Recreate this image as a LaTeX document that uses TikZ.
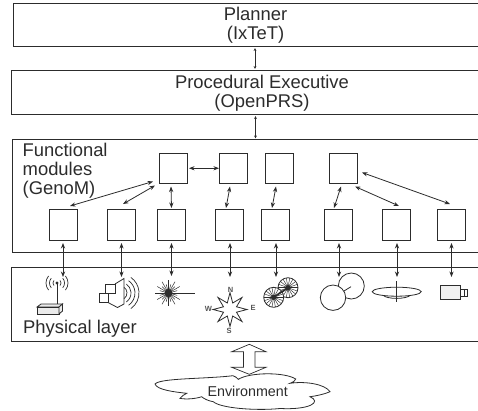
\documentclass[tikz,border=0pt]{standalone}
\usepackage{fontspec}
\setmainfont{Liberation Sans}
\usetikzlibrary{arrows.meta}
\definecolor{ink}{HTML}{2C2C2C}
\tikzset{
  x=1pt,y=-1pt,
  layer/.style={draw=ink,line width=1pt,fill=white,rectangle,inner sep=0pt,outer sep=0pt,anchor=north west},
  module/.style={draw=ink,line width=1pt,fill=white,rectangle,inner sep=0pt,outer sep=0pt,minimum width=28pt,minimum height=30.5pt,anchor=north west},
  big/.style={text=ink,font=\fontsize{18.4}{19.5}\selectfont,align=center,inner sep=0pt},
  bigleft/.style={text=ink,font=\fontsize{18.4}{19}\selectfont,align=left,inner sep=0pt,anchor=base west},
  lnk/.style={draw=ink,line width=.8pt,{Stealth[length=5.5pt,width=4.2pt]}-{Stealth[length=5.5pt,width=4.2pt]}},
  lnksmall/.style={draw=ink,line width=.7pt,{Stealth[length=3pt,width=2.8pt]}-{Stealth[length=3pt,width=2.8pt]}},
  icon/.style={draw=ink,line width=.8pt},
  compassl/.style={text=ink!80,font=\fontsize{7.5}{8}\selectfont\bfseries,inner sep=0pt}
}
\begin{document}
\begin{tikzpicture}
\useasboundingbox (0,0) rectangle (478,410);
\clip (0,0) rectangle (478,410);
% layers
\node[layer,minimum width=480pt,minimum height=43pt] (planner) at (13.5,3) {};
\node[layer,minimum width=480pt,minimum height=44pt] (exec) at (11,70) {};
\node[layer,minimum width=480pt,minimum height=112.5pt] (func) at (12.5,139.5) {};
\node[layer,minimum width=480pt,minimum height=74pt] (phys) at (11.5,267) {};
\node[big] (plannerT) at (255.5,25) {Planner\\(IxTeT)};
\node[big] (execT) at (262,93) {Procedural Executive\\(OpenPRS)};
\node[bigleft] (funcT) at (22.5,194) {Functional\\modules\\(GenoM)};
\node[bigleft,anchor=base west] (physT) at (23,333) {Physical layer};
% modules
\node[module] (t1) at (159,153) {};
\node[module] (t2) at (219,153) {};
\node[module] (t3) at (265,153) {};
\node[module] (t4) at (329,153) {};
\node[module] (b1) at (49,209.5) {};
\node[module] (b2) at (107,209.5) {};
\node[module] (b3) at (157,209.5) {};
\node[module] (b4) at (215,209.5) {};
\node[module] (b5) at (261.5,209.5) {};
\node[module] (b6) at (324,209.5) {};
\node[module] (b7) at (382.5,209.5) {};
\node[module] (b8) at (437.5,209.5) {};
% icon anchors
\coordinate (i1) at (63,277);
\coordinate (i2) at (121.5,277);
\coordinate (i3) at (171.5,276);
\coordinate (i4) at (230,277);
\coordinate (i5) at (276,277);
\coordinate (i6) at (339,277);
\coordinate (i7) at (397,277);
\coordinate (i8) at (451.5,277);
% icons
% antenna
\draw[icon] (57,283) -- (57,304);
\fill[ink] (57,283) circle (1.6);
\foreach \r in {4,7.5,11}{
  \draw[icon,line width=.7pt] (57,283) ++(40:\r) arc (40:-40:\r);
  \draw[icon,line width=.7pt] (57,283) ++(140:\r) arc (140:220:\r);
}
\draw[icon,fill=black!8] (37,307) -- (41,304) -- (62.5,304) -- (59,307) -- cycle;
\draw[icon,fill=black!8] (37,307) rectangle (59,314);
\draw[icon,fill=black!8] (59,307) -- (62.5,304) -- (62.5,311) -- (59,314) -- cycle;
% speaker
\draw[icon,fill=white] (115,284) -- (124,278.5) -- (124,304) -- (117.5,307.5) -- (108,302.5);
\draw[icon,fill=white] (105,284) rectangle (115,293);
\draw[icon,fill=white] (99,293) rectangle (108,302.5);
\foreach \r in {7,11,15,19}{
  \draw[icon,line width=.7pt] (120,293) ++(55:\r) arc (55:-55:\r);
}
% laser
\foreach \a in {0,15,...,345}{
  \draw[ink,line width=.5pt] (168.5,293) -- ++(\a:{mod(\a,30)==0 ? 13 : 9});
}
\fill[ink] (168.5,293) circle (4);
\draw[ink,line width=.8pt] (155,293) -- (195,293);
% compass
\draw[icon,fill=white] (247,309.5) -- (236.5,306.8) -- (242,297.5) -- (232.7,303) -- (230,292.5) -- (227.3,303) -- (218,297.5) -- (223.5,306.8) -- (213,309.5) -- (223.5,312.2) -- (218,321.5) -- (227.3,316) -- (230,326.5) -- (232.7,316) -- (242,321.5) -- (236.5,312.2) -- cycle;
\node[compassl] (cN) at (230.7,290) {N};
\node[compassl] (cW) at (208.5,309) {W};
\node[compassl] (cS) at (229,331) {S};
\node[compassl] (cE) at (253,308) {E};
% wheels
\foreach \cx/\cy in {288/287.7,273.7/297.3}{
  \draw[icon,fill=white] (\cx,\cy) circle (10);
  \foreach \a in {0,20,...,340}{\draw[ink,line width=.45pt] (\cx,\cy) -- ++(\a:10);}
  \fill[ink] (\cx,\cy) circle (2.6);
}
\draw[ink,line width=1.6pt] (273.7,297.3) -- (288,287.7);
% circles
\draw[icon,fill=white] (351.3,286) circle (13);
\draw[icon,fill=white] (333,297.7) circle (12.7);
\draw[icon] (344,291) -- (351,286.7);
% disk
\draw[icon,fill=white] (383,295) .. controls (386,299.5) and (407,299.5) .. (410.6,295);
\draw[icon,fill=white] (396.7,291.7) ellipse (24.5 and 4.5);
\draw[icon,line width=.6pt] (396.7,281) -- (396.7,302);
% camera
\draw[icon,fill=black!6] (440,285.3) rectangle (460.7,299);
\draw[icon,fill=white] (460.7,289) rectangle (467,296);
\draw[icon,line width=.6pt] (464,289) -- (464,296);
% connectors
\draw[lnksmall] ([xshift=1.5pt,yshift=-2pt]planner.south) -- ([xshift=4pt,yshift=1pt]exec.north);
\draw[lnksmall] ([xshift=4.5pt,yshift=-2pt]exec.south) -- ([xshift=3pt,yshift=1pt]func.north);
\draw[lnk] ([xshift=-6pt,yshift=2pt]t1.south west) -- ([xshift=21pt,yshift=3.5pt]b1.north west);
\draw[lnk] ([xshift=-4pt,yshift=-2pt]t1.south west) -- ([xshift=16pt,yshift=5.5pt]b2.north west);
\draw[lnk] ([xshift=12pt,yshift=-3pt]t1.south west) -- ([xshift=14.5pt,yshift=1.5pt]b3.north west);
\draw[lnk] ([xshift=2pt,yshift=0pt]t1.east) -- (t2.west);
\draw[lnk] ([xshift=11pt,yshift=-3pt]t2.south west) -- ([xshift=11pt,yshift=1.5pt]b4.north west);
\draw[lnk] ([xshift=11pt,yshift=-3pt]t3.south west) -- ([xshift=10.5pt,yshift=1.5pt]b5.north west);
\draw[lnk] ([xshift=12pt,yshift=-3pt]t4.south west) -- ([xshift=10pt,yshift=1.5pt]b6.north west);
\draw[lnk] ([xshift=-2pt,yshift=-3pt]t4.south east) -- ([xshift=16.5pt,yshift=3.5pt]b7.north west);
\draw[lnk] ([xshift=5pt,yshift=11pt]t4.south east) -- ([xshift=12.5pt,yshift=5.5pt]b8.north west);
\foreach \m/\i/\dx in {b1/i1/14,b2/i2/14.5,b3/i3/14.5,b4/i4/15,b5/i5/14.5,b6/i6/15,b7/i7/14.5,b8/i8/14}{
  \draw[lnk] ([xshift=\dx pt,yshift=-3pt]\m.south west) -- (\i);
}
% double arrow
\draw[draw=ink,line width=.7pt,fill=white] (249.3,344.3) -- (266,351.7) -- (255,351.7) -- (255,367.3) -- (266,367.3) -- (249.3,374.3) -- (231.7,367.3) -- (243.5,367.3) -- (243.5,351.7) -- (231.7,351.7) -- cycle;
% cloud
\draw[draw=ink,line width=.8pt,fill=white] (155,384)
  .. controls (160,378) and (205,379) .. (233,375.7)
  .. controls (235,376) and (237,378) .. (238.3,379.3)
  .. controls (250,372) and (285,372) .. (295.7,379)
  .. controls (295,381) and (293,382.5) .. (290,383.3)
  .. controls (305,381) and (325,384) .. (330,391.7)
  .. controls (325,394) and (316,396) .. (310,396.7)
  .. controls (322,402) and (310,410) .. (280,408.5)
  .. controls (255,411) and (220,408) .. (213.3,401.7)
  .. controls (209,401) and (204,399) .. (201.7,396.7)
  .. controls (195,399) and (185,399.5) .. (180,398.3)
  .. controls (182,396) and (184,394.5) .. (186.7,393.3)
  .. controls (175,392) and (157,390) .. (155,384) -- cycle;
\node[text=ink,font=\fontsize{14.3}{15}\selectfont,inner sep=0pt] (envT) at (247.7,391) {Environment};
\end{tikzpicture}
\end{document}
